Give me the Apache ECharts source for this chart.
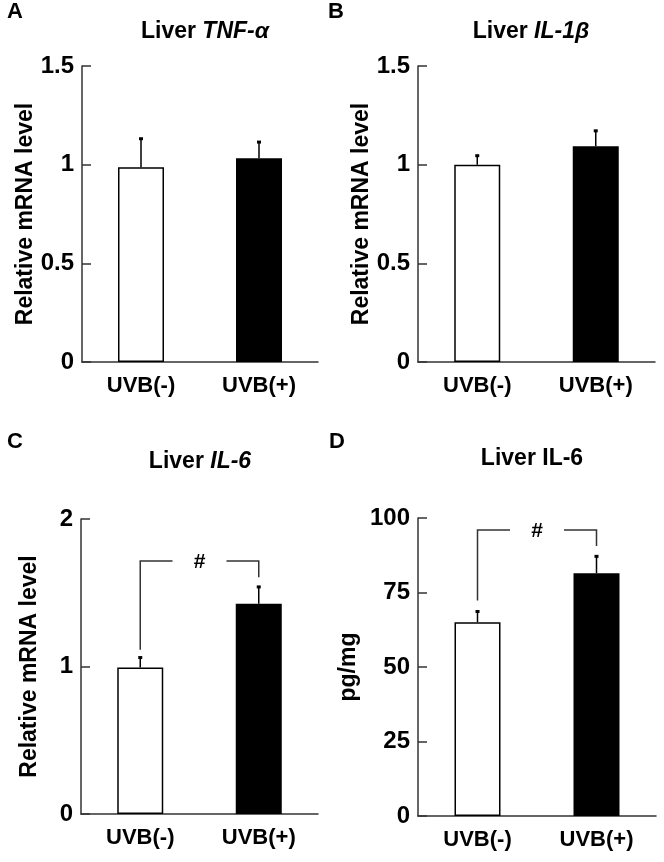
<!DOCTYPE html>
<html>
<head>
<meta charset="utf-8">
<script src="https://cdn.jsdelivr.net/npm/echarts@6/dist/echarts.min.js"></script>
<style>
html,body{margin:0;padding:0;background:#fff;}
#chart{width:664px;height:862px;}
</style>
</head>
<body>
<div id="chart"></div>
<script>
// ---- data ----
const categories = ['UVB(-)', 'UVB(+)'];
const tnfMean = [0.987, 1.032];
const tnfErr = [0.147, 0.085];
const il1bMean = [1.0, 1.093];
const il1bErr = [0.048, 0.081];
const il6mrnaMean = [0.993, 1.425];
const il6mrnaErr = [0.071, 0.118];
const il6protMean = [65, 81.5];
const il6protErr = [3.8, 5.8];
// bracket: [bar level, left leg bottom, right leg bottom]
const bracketC = [1.715, 1.114, 1.605];
const bracketD = [96, 72.3, 90.6];
const yMaxA = 1.5, yIntA = 0.5;
const yMaxB = 1.5, yIntB = 0.5;
const yMaxC = 2, yIntC = 1;
const yMaxD = 100, yIntD = 25;

const FONT = '"Liberation Sans", Arial, sans-serif';
const AXIS_COLOR = '#333';
const BAR_COLORS = ['#ffffff', '#000000'];

const grids = [
  {left: 82, top: 66, width: 236, height: 296},
  {left: 418, top: 66, width: 237, height: 296},
  {left: 81, top: 519, width: 237, height: 295},
  {left: 418, top: 518, width: 238, height: 298}
];

function xAxis(i) {
  return {
    type: 'category', gridIndex: i, data: categories,
    axisLine: {lineStyle: {color: AXIS_COLOR, width: 1.5}},
    axisTick: {inside: true, length: 11, lineStyle: {color: AXIS_COLOR, width: 1.5}},
    axisLabel: {color: '#000', fontFamily: FONT, fontWeight: 'bold', fontSize: 22, margin: 13}
  };
}
function yAxis(i, max, interval, name, gap) {
  return {
    type: 'value', gridIndex: i, min: 0, max: max, interval: interval,
    name: name, nameLocation: 'middle', nameGap: gap, nameRotate: 90,
    nameTextStyle: {color: '#000', fontFamily: FONT, fontWeight: 'bold', fontSize: 23},
    splitLine: {show: false},
    axisLine: {show: true, lineStyle: {color: AXIS_COLOR, width: 1.5}},
    axisTick: {show: true, inside: true, length: 9, lineStyle: {color: AXIS_COLOR, width: 1.5}},
    axisLabel: {color: '#000', fontFamily: FONT, fontWeight: 'bold', fontSize: 24, margin: 8}
  };
}
function barSeries(i, means) {
  return {
    type: 'bar', xAxisIndex: i, yAxisIndex: i, barWidth: 46,
    data: means.map((v, k) => ({value: v, itemStyle: {color: BAR_COLORS[k]}})),
    itemStyle: {borderColor: '#000', borderWidth: 1.5},
    silent: true, z: 2
  };
}
function errSeries(i, means, errs) {
  return {
    type: 'custom', xAxisIndex: i, yAxisIndex: i, z: 5, silent: true,
    data: means.map((m, k) => [k, m, m + errs[k]]),
    renderItem: function (params, api) {
      const p1 = api.coord([api.value(0), api.value(1)]);
      const p2 = api.coord([api.value(0), api.value(2)]);
      return {
        type: 'group',
        children: [
          {type: 'line', shape: {x1: p1[0], y1: p1[1], x2: p2[0], y2: p2[1]}, style: {stroke: '#000', lineWidth: 1.5}},
          {type: 'rect', shape: {x: p2[0] - 2, y: p2[1] - 1, width: 4, height: 3}, style: {fill: '#000'}}
        ]
      };
    }
  };
}
function bracketSeries(i, br) {
  return {
    type: 'custom', xAxisIndex: i, yAxisIndex: i, z: 6, silent: true,
    data: [[0, 1, br[0], br[1], br[2]]],
    renderItem: function (params, api) {
      const pL = api.coord([api.value(0), api.value(2)]);
      const pR = api.coord([api.value(1), api.value(2)]);
      const lL = api.coord([api.value(0), api.value(3)]);
      const lR = api.coord([api.value(1), api.value(4)]);
      const mid = (pL[0] + pR[0]) / 2;
      const gap = 27;
      const st = {stroke: AXIS_COLOR, lineWidth: 1.5, fill: null};
      return {
        type: 'group',
        children: [
          {type: 'polyline', shape: {points: [[lL[0], lL[1]], [pL[0], pL[1]], [mid - gap, pL[1]]]}, style: st},
          {type: 'polyline', shape: {points: [[mid + gap, pR[1]], [pR[0], pR[1]], [lR[0], lR[1]]]}, style: st},
          {type: 'text', x: mid, y: pL[1] + 1, style: {text: '#', fill: '#000', font: 'bold 21px ' + FONT, align: 'center', verticalAlign: 'middle'}}
        ]
      };
    }
  };
}
function titleText(x, y, parts) {
  return {
    type: 'text', x: x, y: y, silent: true,
    style: {
      text: parts, align: 'center', verticalAlign: 'top', fill: '#000',
      font: 'bold 23px ' + FONT,
      rich: {
        n: {fontFamily: FONT, fontWeight: 'bold', fontSize: 23, fill: '#000'},
        i: {fontFamily: FONT, fontWeight: 'bold', fontStyle: 'italic', fontSize: 23, fill: '#000'}
      }
    }
  };
}
function letter(x, y, t) {
  return {type: 'text', x: x, y: y, silent: true, style: {text: t, fill: '#000', font: 'bold 22px ' + FONT, align: 'left', verticalAlign: 'top'}};
}

const option = {
  backgroundColor: '#fff',
  animation: false,
  grid: grids,
  xAxis: [xAxis(0), xAxis(1), xAxis(2), xAxis(3)],
  yAxis: [
    yAxis(0, yMaxA, yIntA, 'Relative mRNA level', 40),
    yAxis(1, yMaxB, yIntB, 'Relative mRNA level', 40),
    yAxis(2, yMaxC, yIntC, 'Relative mRNA level', 40),
    yAxis(3, yMaxD, yIntD, 'pg/mg', 58)
  ],
  series: [
    barSeries(0, tnfMean), errSeries(0, tnfMean, tnfErr),
    barSeries(1, il1bMean), errSeries(1, il1bMean, il1bErr),
    barSeries(2, il6mrnaMean), errSeries(2, il6mrnaMean, il6mrnaErr), bracketSeries(2, bracketC),
    barSeries(3, il6protMean), errSeries(3, il6protMean, il6protErr), bracketSeries(3, bracketD)
  ],
  graphic: [
    letter(7, 1, 'A'), letter(328, 1, 'B'), letter(7, 431, 'C'), letter(329, 431, 'D'),
    titleText(205, 20, '{n|Liver }{i|TNF-α}'),
    titleText(531, 20, '{n|Liver }{i|IL-1β}'),
    titleText(200, 450, '{n|Liver }{i|IL-6}'),
    titleText(532, 447, '{n|Liver IL-6}')
  ]
};

const chart = echarts.init(document.getElementById('chart'), null, {renderer: 'canvas'});
chart.setOption(option);
</script>
</body>
</html>
